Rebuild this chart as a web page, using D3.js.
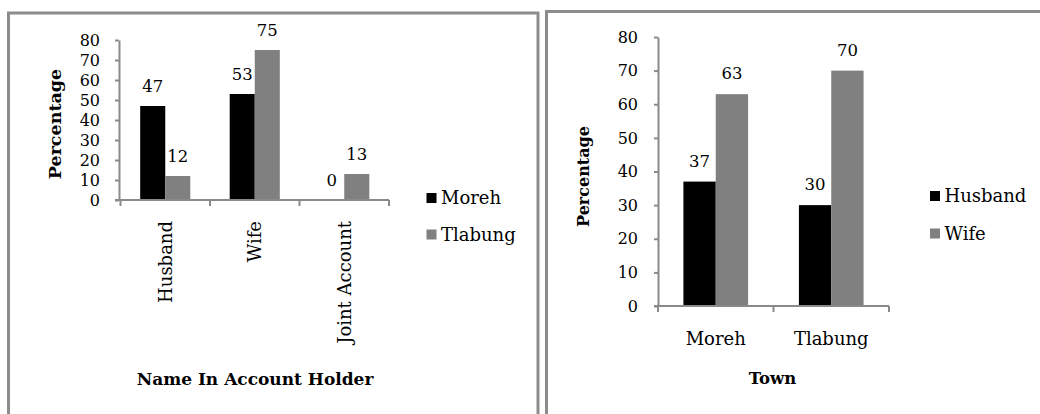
<!DOCTYPE html>
<html>
<head>
<meta charset="utf-8">
<script src="https://cdn.jsdelivr.net/npm/d3@7"></script>
<style>
  html, body { margin: 0; padding: 0; background: #fff; }
  svg { display: block; font-family: "DejaVu Serif", "Liberation Serif", serif; }
</style>
</head>
<body>
<svg id="chart" width="1040" height="414"></svg>
<script>
// Account holder name, by town (percent)
const accountCategories = ["Husband", "Wife", "Joint Account"];
const accountSeries = ["Moreh", "Tlabung"];
const accountMoreh = [47, 53, 0];
const accountTlabung = [12, 75, 13];

// Account holder by town, husband vs wife (percent)
const townCategories = ["Moreh", "Tlabung"];
const townSeries = ["Husband", "Wife"];
const townHusband = [37, 30];
const townWife = [63, 70];

const yTickValues = [0, 10, 20, 30, 40, 50, 60, 70, 80];
const seriesColors = ["#000000", "#808080"];
const axisColor = "#8a8a8a";

const svg = d3.select("#chart");

// panel frames (open at the bottom edge of the page)
svg.append("rect").attr("x", 8.5).attr("y", 13).attr("width", 529.5).attr("height", 440)
  .attr("fill", "none").attr("stroke", "#8c8c8c").attr("stroke-width", 3);
svg.append("rect").attr("x", 546.5).attr("y", 11.5).attr("width", 520).attr("height", 440)
  .attr("fill", "none").attr("stroke", "#8c8c8c").attr("stroke-width", 3);

function drawPanel(cfg) {
  const g = svg.append("g");
  const n = cfg.categories.length;
  const pad = 0.44;
  const x = d3.scaleBand().domain(cfg.categories).range(cfg.xRange)
    .paddingInner(pad).paddingOuter(pad / 2);
  const xs = d3.scaleBand().domain(cfg.series).range([0, x.bandwidth()]);
  const y = d3.scaleLinear().domain([0, 80]).range(cfg.yRange);

  // y axis
  const yAxis = g.append("g").attr("transform", `translate(${cfg.axisX},0)`)
    .call(d3.axisLeft(y).tickValues(yTickValues).tickSize(4).tickPadding(cfg.tickPad).tickSizeOuter(0));
  yAxis.select(".domain").attr("stroke", axisColor).attr("stroke-width", 2);
  yAxis.selectAll(".tick line").attr("stroke", axisColor).attr("stroke-width", 2);
  yAxis.selectAll(".tick text").attr("fill", "#000").attr("font-size", 16)
    .attr("font-family", "DejaVu Serif");

  // bars
  const rows = cfg.categories.map((c, i) => ({ cat: c, vals: cfg.values.map(v => v[i]) }));
  const grp = g.selectAll(".grp").data(rows).enter().append("g")
    .attr("transform", d => `translate(${x(d.cat)},0)`);
  grp.selectAll("rect").data(d => d.vals.map((v, k) => ({ s: cfg.series[k], v, k })))
    .enter().append("rect")
    .attr("x", d => xs(d.s)).attr("width", xs.bandwidth())
    .attr("y", d => y(d.v)).attr("height", d => y(0) - y(d.v))
    .attr("fill", d => seriesColors[d.k]);
  grp.selectAll("text").data(d => d.vals.map((v, k) => ({ s: cfg.series[k], v, k })))
    .enter().append("text")
    .attr("x", d => xs(d.s) + xs.bandwidth() / 2)
    .attr("y", d => y(d.v) - cfg.labelGap)
    .attr("text-anchor", "middle").attr("font-size", 16.5).text(d => d.v);

  // x axis with ticks at category boundaries
  const x0 = x.range()[0], x1 = x.range()[1];
  g.append("line").attr("x1", cfg.axisX - 4).attr("x2", x1).attr("y1", y(0)).attr("y2", y(0))
    .attr("stroke", axisColor).attr("stroke-width", 2);
  d3.range(n + 1).forEach(i => {
    const bx = x0 + i * x.step();
    g.append("line").attr("x1", bx).attr("x2", bx).attr("y1", y(0)).attr("y2", y(0) + 6)
      .attr("stroke", axisColor).attr("stroke-width", 2);
  });

  // category labels
  if (cfg.rotateLabels) {
    g.selectAll(".cat").data(cfg.categories).enter().append("text")
      .attr("transform", d => `translate(${x(d) + x.bandwidth() / 2},${cfg.catY}) rotate(-90)`)
      .attr("text-anchor", "end").attr("dy", "0.35em").attr("font-size", 18).text(d => d);
  } else {
    g.selectAll(".cat").data(cfg.categories).enter().append("text")
      .attr("x", d => x(d) + x.bandwidth() / 2).attr("y", cfg.catY)
      .attr("text-anchor", "middle").attr("font-size", 18).text(d => d);
  }

  // axis titles
  g.append("text").attr("x", cfg.xTitle[0]).attr("y", cfg.xTitle[1])
    .attr("text-anchor", "middle").attr("font-weight", "bold").attr("font-size", cfg.xTitleSize)
    .text(cfg.xTitleText);
  g.append("text").attr("transform", `translate(${cfg.yTitle[0]},${cfg.yTitle[1]}) rotate(-90)`)
    .attr("text-anchor", "middle").attr("font-weight", "bold").attr("font-size", cfg.yTitleSize)
    .text("Percentage");

  // legend
  cfg.series.forEach((s, k) => {
    const ly = cfg.legendY[k];
    g.append("rect").attr("x", cfg.legendX).attr("y", ly).attr("width", 10).attr("height", 10)
      .attr("fill", seriesColors[k]);
    g.append("text").attr("x", cfg.legendX + 14.5).attr("y", ly + 11)
      .attr("font-size", 18).text(s);
  });
}

drawPanel({
  categories: accountCategories, series: accountSeries,
  values: [accountMoreh, accountTlabung],
  axisX: 119, xRange: [120.5, 389], yRange: [200, 40], tickPad: 15, labelGap: 14,
  rotateLabels: true, catY: 221,
  xTitleText: "Name In Account Holder", xTitle: [255, 385], xTitleSize: 17,
  yTitle: [61, 124], yTitleSize: 17.5,
  legendX: 426.5, legendY: [193, 229.5]
});

drawPanel({
  categories: townCategories, series: townSeries,
  values: [townHusband, townWife],
  axisX: 658, xRange: [658, 889], yRange: [306, 37], tickPad: 16, labelGap: 15,
  rotateLabels: false, catY: 345,
  xTitleText: "Town", xTitle: [772.5, 384], xTitleSize: 16.5,
  yTitle: [589, 176.5], yTitleSize: 16,
  legendX: 930, legendY: [191, 228.5]
});
</script>
</body>
</html>
